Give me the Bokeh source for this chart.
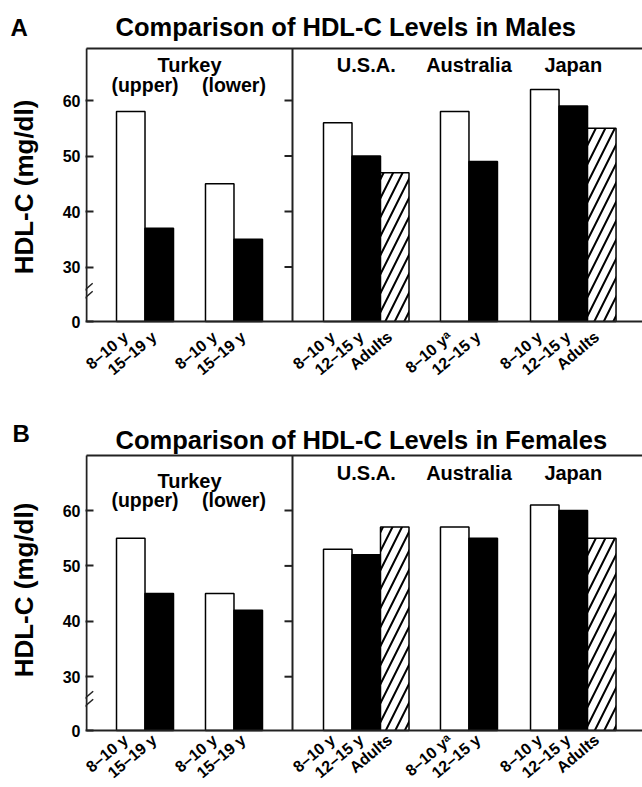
import math
from bokeh.plotting import figure
from bokeh.models import Range1d, FixedTicker, LinearAxis, Arrow, ColumnDataSource
from bokeh.layouts import column, row
from bokeh.core.properties import value
from bokeh.embed import file_html
from bokeh.resources import INLINE

FONT = "Liberation Sans"
AX = "#222222"

# ---------------- data ----------------
group_names = ["Turkey", "Turkey", "U.S.A.", "Australia", "Japan"]
group_sub = ["(upper)", "(lower)", "", "", ""]
age_labels = [
    ["8–10 y", "15–19 y"],
    ["8–10 y", "15–19 y"],
    ["8–10 y", "12–15 y", "Adults"],
    ["8–10 yᵃ", "12–15 y"],
    ["8–10 y", "12–15 y", "Adults"],
]
males = [[58, 37], [45, 35], [56, 50, 47], [58, 49], [62, 59, 55]]
females = [[55, 45], [45, 42], [53, 52, 57], [57, 55], [61, 60, 55]]
y_ticks = [30, 40, 50, 60]

# ---------------- layout ----------------
LAB_W = 46
PW = 642 - LAB_W
FRAME_L_PX = 85
AXIS_X_PX = 86
PXU = 28.5
X_START = (FRAME_L_PX - AXIS_X_PX) / PXU
X_END = X_START + (642 - FRAME_L_PX) / PXU
GROUP_START = [1.053, 4.175, 8.316, 12.42, 15.58]
DIVIDER = 7.228
FILLS = ["white", "black", "white"]
HATCH = [" ", " ", "/"]
BOLD = dict(text_font=value(FONT), text_font_style="bold", text_color="black")
MID = 0.35  # em offset from alphabetic baseline to text middle
XLAB_ANGLE = math.radians(40)
XLAB_SIZE = 16
XLAB_DX = -5  # px


def make_side(cfg, letter):
    H, t = cfg["height"], cfg["page_top"]
    s = figure(width=LAB_W, height=H, x_range=Range1d(0, LAB_W), y_range=Range1d(0, H),
               min_border=0, x_axis_type=None, y_axis_type=None, toolbar_location=None,
               output_backend="svg")
    s.outline_line_color = None
    lx, lb = cfg["letter"]
    s.text(x=[lx], y=[H - (lb - MID * 24 - t)], text=[letter],
           text_font_size="24px", text_align="left", text_baseline="middle", **BOLD)
    s.text(x=[33 - MID * 26], y=[H - (cfg["ylab_center"] - t)], text=["HDL-C (mg/dl)"],
           angle=math.pi / 2, text_font_size="26px", text_align="center",
           text_baseline="middle", **BOLD)
    return s


def make_panel(vals, title, cfg):
    H, t = cfg["height"], cfg["page_top"]

    def yd(py):
        return 60 - (py - cfg["ref_px"]) / cfg["scale"]

    def xd(px):
        return (px - AXIS_X_PX) / PXU

    y_lo = yd(cfg["base_px"])
    y_hi = yd(cfg["top_px"])
    p = figure(width=PW, height=H, x_range=Range1d(X_START, X_END),
               y_range=Range1d(yd(t + H), yd(t)), output_backend="svg", toolbar_location=None,
               x_axis_type=None, y_axis_type=None, min_border=0,
               min_border_left=FRAME_L_PX - LAB_W)
    p.outline_line_color = None

    xs, tops, fills, hatches, labs = [], [], [], [], []
    for start, v, names in zip(GROUP_START, vals, age_labels):
        for i, val in enumerate(v):
            xs.append(start + i + 0.5)
            tops.append(val)
            fills.append(FILLS[i])
            hatches.append(HATCH[i])
            labs.append(names[i])
    src = ColumnDataSource(dict(x=xs, top=tops, fill=fills, hatch=hatches))
    p.vbar(x="x", width=1, top="top", bottom=y_lo, source=src, fill_color="fill",
           hatch_pattern="hatch", hatch_color="black", hatch_weight=2, hatch_scale=19,
           line_color="black", line_width=1.5)

    # frame lines: top, bottom, left, divider
    p.segment(x0=[0, 0, 0, DIVIDER], y0=[y_hi, y_lo, y_lo, y_lo],
              x1=[X_END, X_END, 0, DIVIDER], y1=[y_hi, y_lo, y_hi, y_hi],
              line_width=2, line_color=AX)
    # inward ticks on divider
    p.segment(x0=[DIVIDER - 8 / PXU] * len(y_ticks), x1=[DIVIDER] * len(y_ticks),
              y0=y_ticks, y1=y_ticks, line_width=2, line_color=AX)

    ya = LinearAxis(ticker=FixedTicker(ticks=[y_lo] + y_ticks),
                    major_label_overrides={y_lo: "0"},
                    major_label_text_font=FONT, major_label_text_font_style="bold",
                    major_label_text_font_size="16px", major_label_text_color="black",
                    major_label_standoff=5, major_tick_in=8, major_tick_out=0,
                    minor_tick_line_color=None, axis_line_color=None,
                    major_tick_line_width=2, major_tick_line_color=AX)
    p.add_layout(ya, "left")

    # x category labels (rotated)
    p.text(x=[x + XLAB_DX / PXU for x in xs],
           y=[y_lo - cfg["xlab_dy"] / cfg["scale"]] * len(xs),
           text=labs, angle=XLAB_ANGLE, text_font_size=f"{XLAB_SIZE}px", text_align="right",
           text_baseline="middle", **BOLD)

    # axis break marks
    bx, by = cfg["brk"]
    for off in (-4, 4):
        p.add_layout(Arrow(end=None, x_start=xd(bx - 7.2), y_start=yd(by + off + 6.2),
                           x_end=xd(bx + 7.2), y_end=yd(by + off - 6.2),
                           line_width=1.5, line_color=AX))

    # title
    tx, tb = cfg["title_px"]
    p.text(x=[xd(tx)], y=[yd(tb - MID * 25.5)], text=[title],
           text_font_size="25.5px", text_align="left", text_baseline="middle", **BOLD)

    # group labels
    t_center = (GROUP_START[0] + len(vals[0]) / 2 + GROUP_START[1] + len(vals[1]) / 2) / 2
    gx, gy, gt = [t_center], [yd(cfg["turkey"] - MID * 20)], [group_names[0]]
    sx, sy, st = [], [], []
    for g in range(5):
        c = GROUP_START[g] + len(vals[g]) / 2
        if group_sub[g]:
            sx.append(c); sy.append(yd(cfg["sub"] - MID * 19.5)); st.append(group_sub[g])
        else:
            gx.append(c); gy.append(yd(cfg["country"] - MID * 20)); gt.append(group_names[g])
    p.text(x=gx, y=gy, text=gt, text_font_size="20px", text_align="center",
           text_baseline="middle", **BOLD)
    p.text(x=sx, y=sy, text=st, text_font_size="19.5px", text_align="center",
           text_baseline="middle", **BOLD)
    return p


cfgA = dict(page_top=0, height=410, ref_px=100, scale=5.55, base_px=321, top_px=48,
            letter=(10, 35), title_px=(115, 35), turkey=71, sub=91, country=71.5,
            brk=(85, 293), ylab_center=186.5, xlab_dy=13)
cfgB = dict(page_top=410, height=377, ref_px=510, scale=5.54, base_px=730, top_px=455,
            letter=(12, 441), title_px=(115, 448), turkey=487, sub=506, country=479,
            brk=(85.5, 701), ylab_center=589.5, xlab_dy=7)

rowA = row(make_side(cfgA, "A"), make_panel(males, "Comparison of HDL-C Levels in Males", cfgA),
           spacing=0)
rowB = row(make_side(cfgB, "B"), make_panel(females, "Comparison of HDL-C Levels in Females", cfgB),
           spacing=0)
layout = column(rowA, rowB, spacing=0)
open("out.html", "w").write(file_html(layout, INLINE))
